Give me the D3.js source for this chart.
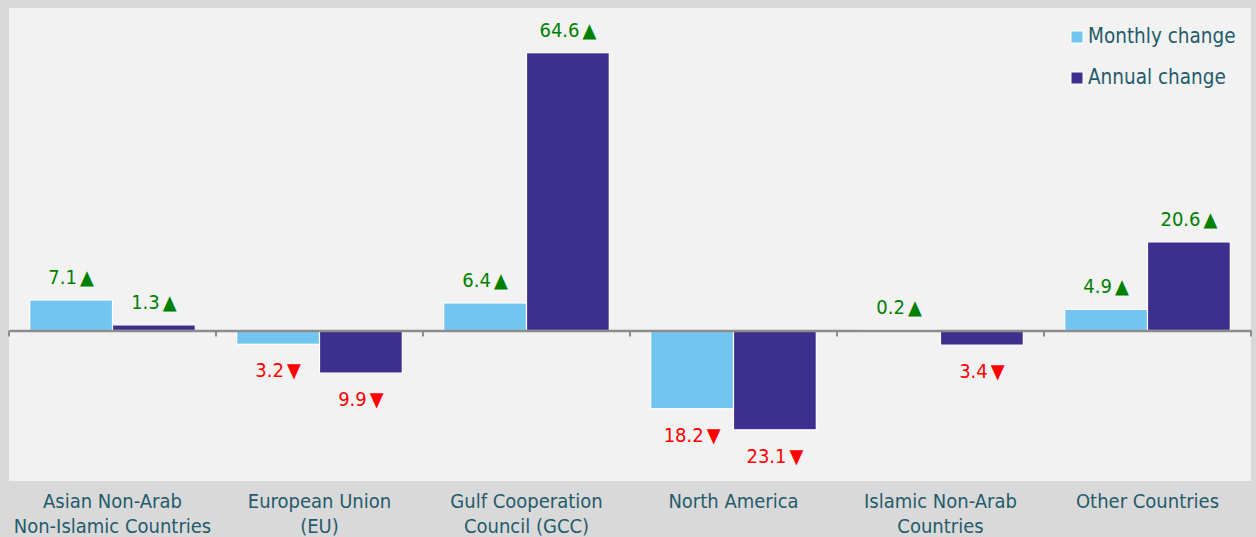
<!DOCTYPE html>
<html>
<head>
<meta charset="utf-8">
<script src="https://cdn.jsdelivr.net/npm/d3@7"></script>
<style>
  html, body { margin: 0; padding: 0; background: #d9d9d9; }
  svg { display: block; }
</style>
</head>
<body>
<svg id="chart" width="1256" height="537"></svg>
<script>
const categories = [
  ["Asian Non-Arab", "Non-Islamic Countries"],
  ["European Union", "(EU)"],
  ["Gulf Cooperation", "Council (GCC)"],
  ["North America"],
  ["Islamic Non-Arab", "Countries"],
  ["Other Countries"]
];
const seriesNames = ["Monthly change", "Annual change"];
const monthly = [7.1, -3.2, 6.4, -18.2, 0.2, 4.9];
const annual = [1.3, -9.9, 64.6, -23.1, -3.4, 20.6];
const yDomain = [-35, 75];

const W = 1256, H = 537;
const panel = { x: 9, y: 8, w: 1242, h: 473 };
const colors = { "Monthly change": "#72c5ee", "Annual change": "#3c2f8e" };
const textColor = "#245b6b";
const labelFont = "'DejaVu Sans Condensed', 'Liberation Sans Narrow', sans-serif";

const svg = d3.select("#chart");
svg.append("rect").attr("width", W).attr("height", H).attr("fill", "#d9d9d9");
svg.append("rect").attr("x", panel.x).attr("y", panel.y).attr("width", panel.w).attr("height", panel.h).attr("fill", "#f2f2f2");

const keys = categories.map((c, i) => "c" + i);
const x0 = d3.scaleBand().domain(keys).range([panel.x, panel.x + panel.w]).padding(0);
const bw = x0.bandwidth();
const x1 = d3.scaleBand().domain(seriesNames).range([bw * 0.1, bw * 0.9]).padding(0);
const y = d3.scaleLinear().domain(yDomain).range([panel.y + panel.h, panel.y]);

const data = keys.map((k, i) => ({ key: k, values: [
  { s: seriesNames[0], v: monthly[i] },
  { s: seriesNames[1], v: annual[i] }
]}));

const g = svg.append("g");
const groups = g.selectAll("g.grp").data(data).join("g")
  .attr("class", "grp")
  .attr("transform", d => `translate(${x0(d.key)},0)`);

groups.selectAll("rect").data(d => d.values).join("rect")
  .attr("x", d => x1(d.s))
  .attr("width", x1.bandwidth())
  .attr("y", d => Math.min(y(0), y(d.v)))
  .attr("height", d => Math.abs(y(d.v) - y(0)))
  .attr("fill", d => colors[d.s])
  .attr("stroke", "#ffffff")
  .attr("stroke-width", 1.2);

const vals = groups.selectAll("text.val").data(d => d.values).join("text")
  .attr("class", "val")
  .attr("x", d => x1(d.s) + x1.bandwidth() / 2)
  .attr("y", d => d.v >= 0 ? y(d.v) - 16 : y(d.v) + 33)
  .attr("text-anchor", "middle")
  .attr("font-family", labelFont)
  .attr("font-size", 20)
  .attr("fill", d => d.v >= 0 ? "#008000" : "#ff0000");
vals.append("tspan").text(d => Math.abs(d.v).toFixed(1));
vals.append("tspan").attr("dx", 3).attr("font-size", 20)
  .text(d => d.v >= 0 ? "\u25B2" : "\u25BC");

// zero axis
const axisG = svg.append("g").attr("transform", `translate(0,${y(0)})`);
axisG.call(d3.axisBottom(x0).tickSize(0).tickFormat(""));
axisG.select(".domain").attr("stroke", "#8c8c8c").attr("stroke-width", 2.5);
const boundaries = keys.map(k => x0(k)).concat([panel.x + panel.w]);
axisG.selectAll("line.tk").data(boundaries).join("line")
  .attr("class", "tk")
  .attr("x1", d => d).attr("x2", d => d)
  .attr("y1", 0).attr("y2", 6)
  .attr("stroke", "#8c8c8c").attr("stroke-width", 2);

// category labels
const catG = svg.append("g");
catG.selectAll("text").data(data).join("text")
  .attr("x", d => x0(d.key) + bw / 2)
  .attr("y", 508)
  .attr("text-anchor", "middle")
  .attr("font-family", labelFont)
  .attr("font-size", 20)
  .attr("fill", textColor)
  .each(function(d, i) {
    const t = d3.select(this);
    categories[i].forEach((line, j) => {
      t.append("tspan").attr("x", x0(d.key) + bw / 2).attr("dy", j === 0 ? 0 : 25).text(line);
    });
  });

// legend
const leg = svg.append("g");
seriesNames.forEach((s, i) => {
  const ly = 31 + i * 41;
  leg.append("rect").attr("x", 1071).attr("y", ly).attr("width", 12).attr("height", 12)
    .attr("fill", colors[s]).attr("stroke", "#ffffff").attr("stroke-width", 1);
  leg.append("text").attr("x", 1088).attr("y", ly + 12)
    .attr("font-family", labelFont).attr("font-size", 20.5).attr("fill", textColor).text(s);
});
</script>
</body>
</html>
